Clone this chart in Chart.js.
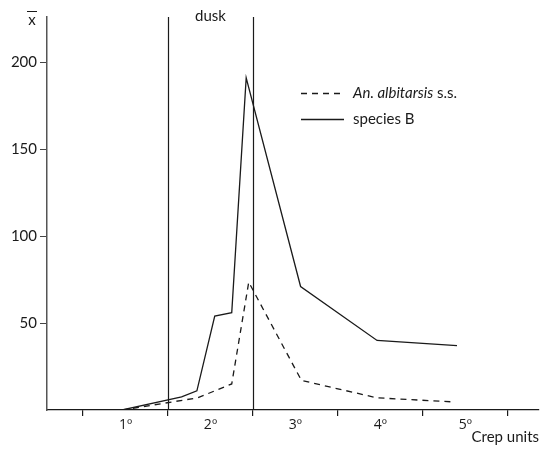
<!DOCTYPE html>
<html>
<head>
<meta charset="utf-8">
<script src="https://cdn.jsdelivr.net/npm/chart.js@4/dist/chart.umd.min.js"></script>
<style>
  body { margin: 0; background: #fff; }
  canvas { display: block; }
</style>
</head>
<body>
<canvas id="chart" width="547" height="452"></canvas>
<script>
// --- DATA ---
const timeAlbitarsis = [0.96, 1.85, 2.25, 2.45, 3.07, 3.96, 4.88];
const albitarsis     = [0, 7, 15, 73.5, 17, 7, 4.6];
const timeSpeciesB   = [0.96, 1.66, 1.84, 2.05, 2.25, 2.42, 3.06, 3.96, 4.9];
const speciesB       = [0, 7.5, 11, 54, 56, 191, 71, 40, 37];

const xTickValues = [0.5, 1, 1.5, 2, 2.5, 3, 3.5, 4, 4.5, 5, 5.5];
const yTickValues = [50, 100, 150, 200];
const duskBounds  = [1.5, 2.5];

const FONT = 'Lato, "Open Sans", sans-serif';
const INK = '#1a1a1a';

const toPoints = (xs, ys) => xs.map((x, i) => ({ x: x, y: ys[i] }));

// extra bits: dusk lines, axis titles, hand-made legend
const decorations = {
    id: 'decorations',
    beforeDatasetsDraw(chart) {
        const ctx = chart.ctx;
        const x = chart.scales.x, area = chart.chartArea;
        ctx.save();
        ctx.strokeStyle = INK;
        ctx.lineWidth = 1.2;
        duskBounds.forEach(v => {
            const px = Math.round(x.getPixelForValue(v)) + 0.5;
            ctx.beginPath();
            ctx.moveTo(px, area.top);
            ctx.lineTo(px, area.bottom);
            ctx.stroke();
        });
        ctx.restore();
    },
    afterDraw(chart) {
        const ctx = chart.ctx;
        const x = chart.scales.x;
        ctx.save();
        ctx.fillStyle = INK;
        ctx.strokeStyle = INK;
        ctx.textBaseline = 'middle';
        ctx.font = '15px ' + FONT;

        ctx.textAlign = 'center';
        ctx.fillText('dusk', x.getPixelForValue(2), 16);
        // x-bar: the letter plus its bar
        ctx.fillText('x', 32, 20);
        ctx.lineWidth = 1;
        ctx.beginPath(); ctx.moveTo(27, 11.5); ctx.lineTo(37, 11.5); ctx.stroke();

        ctx.textAlign = 'right';
        ctx.fillText('Crep units', 539, 437);

        // legend
        ctx.textAlign = 'left';
        ctx.lineWidth = 1.3;
        ctx.setLineDash([6, 5]);
        ctx.beginPath(); ctx.moveTo(301, 93.5); ctx.lineTo(344, 93.5); ctx.stroke();
        ctx.setLineDash([]);
        ctx.beginPath(); ctx.moveTo(301, 119.5); ctx.lineTo(344, 119.5); ctx.stroke();

        ctx.font = 'italic 15px ' + FONT;
        const it = 'An. albitarsis';
        ctx.fillText(it, 353, 93);
        const w = ctx.measureText(it).width;
        ctx.font = '15px ' + FONT;
        ctx.fillText(' s.s.', 353 + w, 93);
        ctx.fillText('species B', 353, 119);
        ctx.restore();
    }
};

new Chart(document.getElementById('chart'), {
    type: 'line',
    data: {
        datasets: [
            {
                label: 'An. albitarsis s.s.',
                data: toPoints(timeAlbitarsis, albitarsis),
                borderColor: INK,
                borderWidth: 1.3,
                borderDash: [6, 5],
                pointRadius: 0,
                tension: 0
            },
            {
                label: 'species B',
                data: toPoints(timeSpeciesB, speciesB),
                borderColor: INK,
                borderWidth: 1.3,
                pointRadius: 0,
                tension: 0
            }
        ]
    },
    options: {
        responsive: false,
        animation: false,
        layout: { padding: { top: 17, right: 8, left: 0, bottom: 0 } },
        plugins: { legend: { display: false }, tooltip: { enabled: false } },
        scales: {
            x: {
                type: 'linear',
                min: 0.0765,
                max: 5.865,
                afterBuildTicks: s => { s.ticks = xTickValues.map(v => ({ value: v })); },
                afterFit: s => { s.height = 42; },
                border: { display: true, color: INK, width: 1.2 },
                grid: {
                    drawOnChartArea: false,
                    tickLength: 6,
                    color: c => (c.tick && Number.isInteger(c.tick.value)) ? 'rgba(0,0,0,0)' : INK,
                    lineWidth: 1.2
                },
                ticks: {
                    autoSkip: false,
                    maxRotation: 0,
                    padding: 1,
                    color: INK,
                    font: { family: '"Open Sans", Lato, sans-serif', size: 14 },
                    callback: v => Number.isInteger(v) ? v + 'º' : ''
                }
            },
            y: {
                min: 0,
                max: 226,
                afterBuildTicks: s => { s.ticks = yTickValues.map(v => ({ value: v })); },
                afterFit: s => { s.width = 47; },
                border: { display: true, color: '#555', width: 1.5 },
                grid: { drawOnChartArea: false, tickLength: 7, color: '#444', lineWidth: 1 },
                ticks: {
                    padding: 3,
                    color: INK,
                    font: { family: FONT, size: 15 }
                }
            }
        }
    },
    plugins: [decorations]
});
</script>
</body>
</html>
